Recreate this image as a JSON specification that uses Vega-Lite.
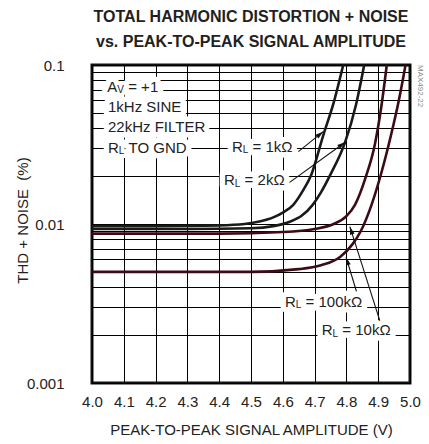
{
  "$schema": "https://vega.github.io/schema/vega-lite/v6.json",
  "autosize": "none",
  "width": 318,
  "height": 318,
  "padding": {"left": 92, "top": 65, "right": 19, "bottom": 61},
  "background": "white",
  "config": {
    "view": {"stroke": "#111111", "strokeWidth": 3},
    "font": "Liberation Sans"
  },
  "title": {
    "text": ["TOTAL HARMONIC DISTORTION + NOISE", "vs. PEAK-TO-PEAK SIGNAL AMPLITUDE"],
    "font": "Liberation Sans",
    "fontWeight": "bold",
    "fontSize": 16,
    "color": "#231f20",
    "anchor": "middle",
    "baseline": "alphabetic",
    "lineHeight": 25,
    "offset": -5
  },
  "datasets": {
    "curves": [
      {"series": "1k", "v": 4.0, "thd": 0.0097},
      {"series": "1k", "v": 4.2, "thd": 0.0097},
      {"series": "1k", "v": 4.4, "thd": 0.0098},
      {"series": "1k", "v": 4.48, "thd": 0.0100},
      {"series": "1k", "v": 4.53, "thd": 0.0104},
      {"series": "1k", "v": 4.57, "thd": 0.0110},
      {"series": "1k", "v": 4.60, "thd": 0.0118},
      {"series": "1k", "v": 4.633, "thd": 0.0132},
      {"series": "1k", "v": 4.66, "thd": 0.0158},
      {"series": "1k", "v": 4.69, "thd": 0.0205},
      {"series": "1k", "v": 4.727, "thd": 0.036},
      {"series": "1k", "v": 4.76, "thd": 0.058},
      {"series": "1k", "v": 4.79, "thd": 0.1},
      {"series": "2k", "v": 4.0, "thd": 0.0093},
      {"series": "2k", "v": 4.3, "thd": 0.0093},
      {"series": "2k", "v": 4.5, "thd": 0.0094},
      {"series": "2k", "v": 4.57, "thd": 0.0097},
      {"series": "2k", "v": 4.62, "thd": 0.0103},
      {"series": "2k", "v": 4.66, "thd": 0.0113},
      {"series": "2k", "v": 4.694, "thd": 0.0132},
      {"series": "2k", "v": 4.72, "thd": 0.0158},
      {"series": "2k", "v": 4.75, "thd": 0.0205},
      {"series": "2k", "v": 4.796, "thd": 0.0327},
      {"series": "2k", "v": 4.83, "thd": 0.056},
      {"series": "2k", "v": 4.856, "thd": 0.1},
      {"series": "10k", "v": 4.0, "thd": 0.0087},
      {"series": "10k", "v": 4.4, "thd": 0.0087},
      {"series": "10k", "v": 4.6, "thd": 0.0089},
      {"series": "10k", "v": 4.7, "thd": 0.0093},
      {"series": "10k", "v": 4.76, "thd": 0.0100},
      {"series": "10k", "v": 4.80, "thd": 0.0112},
      {"series": "10k", "v": 4.827, "thd": 0.0132},
      {"series": "10k", "v": 4.86, "thd": 0.0195},
      {"series": "10k", "v": 4.89, "thd": 0.032},
      {"series": "10k", "v": 4.91, "thd": 0.055},
      {"series": "10k", "v": 4.927, "thd": 0.1},
      {"series": "100k", "v": 4.0, "thd": 0.0050},
      {"series": "100k", "v": 4.5, "thd": 0.0050},
      {"series": "100k", "v": 4.65, "thd": 0.0052},
      {"series": "100k", "v": 4.72, "thd": 0.0055},
      {"series": "100k", "v": 4.78, "thd": 0.0062},
      {"series": "100k", "v": 4.82, "thd": 0.0075},
      {"series": "100k", "v": 4.845, "thd": 0.0090},
      {"series": "100k", "v": 4.879, "thd": 0.0132},
      {"series": "100k", "v": 4.91, "thd": 0.021},
      {"series": "100k", "v": 4.94, "thd": 0.036},
      {"series": "100k", "v": 4.965, "thd": 0.060},
      {"series": "100k", "v": 4.986, "thd": 0.1}
    ],
    "arrows": [
      {"name": "1k", "v": 4.649, "thd": 0.0285, "v2": 4.727, "thd2": 0.0381},
      {"name": "2k", "v": 4.617, "thd": 0.0180, "v2": 4.796, "thd2": 0.0327},
      {"name": "100k", "v": 4.832, "thd": 0.00375, "v2": 4.799, "thd2": 0.00618},
      {"name": "10k", "v": 4.906, "thd": 0.00243, "v2": 4.811, "thd2": 0.00962}
    ],
    "labels": [
      {"v": 4.0481, "thd": 0.0730, "text": "A"},
      {"v": 4.1138, "thd": 0.0730, "text": "= +1"},
      {"v": 4.0503, "thd": 0.0547, "text": "1kHz SINE"},
      {"v": 4.0503, "thd": 0.0409, "text": "22kHz FILTER"},
      {"v": 4.0503, "thd": 0.0301, "text": "R"},
      {"v": 4.1151, "thd": 0.0301, "text": "TO GND"},
      {"v": 4.4403, "thd": 0.0305, "text": "R"},
      {"v": 4.5050, "thd": 0.0305, "text": "= 1kΩ"},
      {"v": 4.4151, "thd": 0.0189, "text": "R"},
      {"v": 4.4799, "thd": 0.0189, "text": "= 2kΩ"},
      {"v": 4.6069, "thd": 0.00325, "text": "R"},
      {"v": 4.6717, "thd": 0.00325, "text": "= 100kΩ"},
      {"v": 4.7223, "thd": 0.00215, "text": "R"},
      {"v": 4.7871, "thd": 0.00215, "text": "= 10kΩ"}
    ],
    "subs": [
      {"v": 4.0796, "thd": 0.0730, "text": "V"},
      {"v": 4.0843, "thd": 0.0301, "text": "L"},
      {"v": 4.4742, "thd": 0.0305, "text": "L"},
      {"v": 4.4491, "thd": 0.0189, "text": "L"},
      {"v": 4.6409, "thd": 0.00325, "text": "L"},
      {"v": 4.7563, "thd": 0.00215, "text": "L"}
    ],
    "code": [
      {"v": 5.031, "thd": 0.1, "text": "MAX492-22"}
    ]
  },
  "encoding": {
    "x": {
      "field": "v",
      "type": "quantitative",
      "scale": {"domain": [4.0, 5.0], "nice": false, "zero": false},
      "axis": {
        "values": [4.0, 4.1, 4.2, 4.3, 4.4, 4.5, 4.6, 4.7, 4.8, 4.9, 5.0],
        "format": ".1f",
        "title": "PEAK-TO-PEAK SIGNAL AMPLITUDE (V)",
        "domain": false,
        "ticks": false,
        "tickSize": 0,
        "grid": true,
        "gridColor": "#000000",
        "gridOpacity": 1,
        "gridWidth": 1,
        "labelFont": "Liberation Sans",
        "labelFontSize": 15,
        "labelColor": "#222222",
        "labelPadding": 11,
        "labelOverlap": false,
        "labelFlush": false,
        "titleFont": "Liberation Sans",
        "titleFontSize": 15,
        "titleFontWeight": "normal",
        "titleColor": "#222222",
        "titleBaseline": "alphabetic",
        "titleY": 51
      }
    },
    "y": {
      "field": "thd",
      "type": "quantitative",
      "scale": {"type": "log", "domain": [0.001, 0.1], "nice": false},
      "axis": {
        "values": [0.001, 0.002, 0.003, 0.004, 0.005, 0.006, 0.007, 0.008, 0.009, 0.01, 0.02, 0.03, 0.04, 0.05, 0.06, 0.07, 0.08, 0.09, 0.1],
        "format": "~g",
        "labelExpr": "(datum.value == 0.1 || datum.value == 0.01 || datum.value == 0.001) ? datum.label : ''",
        "title": "THD + NOISE\u00a0 (%)",
        "domain": false,
        "ticks": false,
        "tickSize": 0,
        "grid": true,
        "gridColor": "#000000",
        "gridOpacity": 1,
        "gridWidth": 1,
        "labelFont": "Liberation Sans",
        "labelFontSize": 15,
        "labelColor": "#222222",
        "labelPadding": 28,
        "labelOverlap": false,
        "labelFlush": false,
        "titleFont": "Liberation Sans",
        "titleFontSize": 15,
        "titleFontWeight": "normal",
        "titleColor": "#222222",
        "titleX": -70,
        "titleY": 155,
        "titleBaseline": "middle",
        "titleAlign": "center",
        "titleAngle": 270
      }
    }
  },
  "layer": [
    {
      "data": {"name": "curves"},
      "mark": {"type": "line", "strokeWidth": 2.6, "interpolate": "monotone"},
      "encoding": {
        "color": {
          "field": "series",
          "type": "nominal",
          "scale": {"domain": ["1k", "2k", "10k", "100k"], "range": ["#1a1a1a", "#1a1a1a", "#3d0b16", "#3d0b16"]},
          "legend": null
        },
        "detail": {"field": "series"}
      }
    },
    {
      "data": {"name": "arrows"},
      "mark": {"type": "rule", "color": "#111111", "strokeWidth": 1.1},
      "encoding": {
        "x2": {"field": "v2"},
        "y2": {"field": "thd2"}
      }
    },
    {
      "data": {"name": "arrows"},
      "transform": [{"filter": "datum.name == '1k'"}],
      "mark": {"type": "point", "shape": "M0,0L-0.6,2L0.6,2Z", "filled": true, "color": "#111111", "opacity": 1, "size": 64, "angle": 51},
      "encoding": {"x": {"field": "v2", "type": "quantitative"}, "y": {"field": "thd2", "type": "quantitative"}}
    },
    {
      "data": {"name": "arrows"},
      "transform": [{"filter": "datum.name == '2k'"}],
      "mark": {"type": "point", "shape": "M0,0L-0.6,2L0.6,2Z", "filled": true, "color": "#111111", "opacity": 1, "size": 64, "angle": 54},
      "encoding": {"x": {"field": "v2", "type": "quantitative"}, "y": {"field": "thd2", "type": "quantitative"}}
    },
    {
      "data": {"name": "arrows"},
      "transform": [{"filter": "datum.name == '100k'"}],
      "mark": {"type": "point", "shape": "M0,0L-0.6,2L0.6,2Z", "filled": true, "color": "#111111", "opacity": 1, "size": 64, "angle": 343},
      "encoding": {"x": {"field": "v2", "type": "quantitative"}, "y": {"field": "thd2", "type": "quantitative"}}
    },
    {
      "data": {"name": "arrows"},
      "transform": [{"filter": "datum.name == '10k'"}],
      "mark": {"type": "point", "shape": "M0,0L-0.6,2L0.6,2Z", "filled": true, "color": "#111111", "opacity": 1, "size": 64, "angle": 342.5},
      "encoding": {"x": {"field": "v2", "type": "quantitative"}, "y": {"field": "thd2", "type": "quantitative"}}
    },
    {
      "data": {"name": "labels"},
      "mark": {"type": "text", "align": "left", "baseline": "middle", "fontSize": 15, "font": "Liberation Sans", "fill": "white", "stroke": "white", "strokeWidth": 11, "strokeJoin": "round"},
      "encoding": {"text": {"field": "text"}}
    },
    {
      "data": {"name": "subs"},
      "mark": {"type": "text", "align": "left", "baseline": "middle", "fontSize": 10, "dy": 3.5, "font": "Liberation Sans", "fill": "white", "stroke": "white", "strokeWidth": 8, "strokeJoin": "round"},
      "encoding": {"text": {"field": "text"}}
    },
    {
      "data": {"name": "labels"},
      "mark": {"type": "text", "align": "left", "baseline": "middle", "fontSize": 15, "font": "Liberation Sans", "color": "#222222"},
      "encoding": {"text": {"field": "text"}}
    },
    {
      "data": {"name": "subs"},
      "mark": {"type": "text", "align": "left", "baseline": "middle", "fontSize": 10, "dy": 3.5, "font": "Liberation Sans", "color": "#222222"},
      "encoding": {"text": {"field": "text"}}
    },
    {
      "data": {"name": "code"},
      "mark": {"type": "text", "align": "left", "baseline": "middle", "fontSize": 8, "angle": 90, "font": "Liberation Sans", "color": "#888888"},
      "encoding": {"text": {"field": "text"}}
    }
  ]
}
